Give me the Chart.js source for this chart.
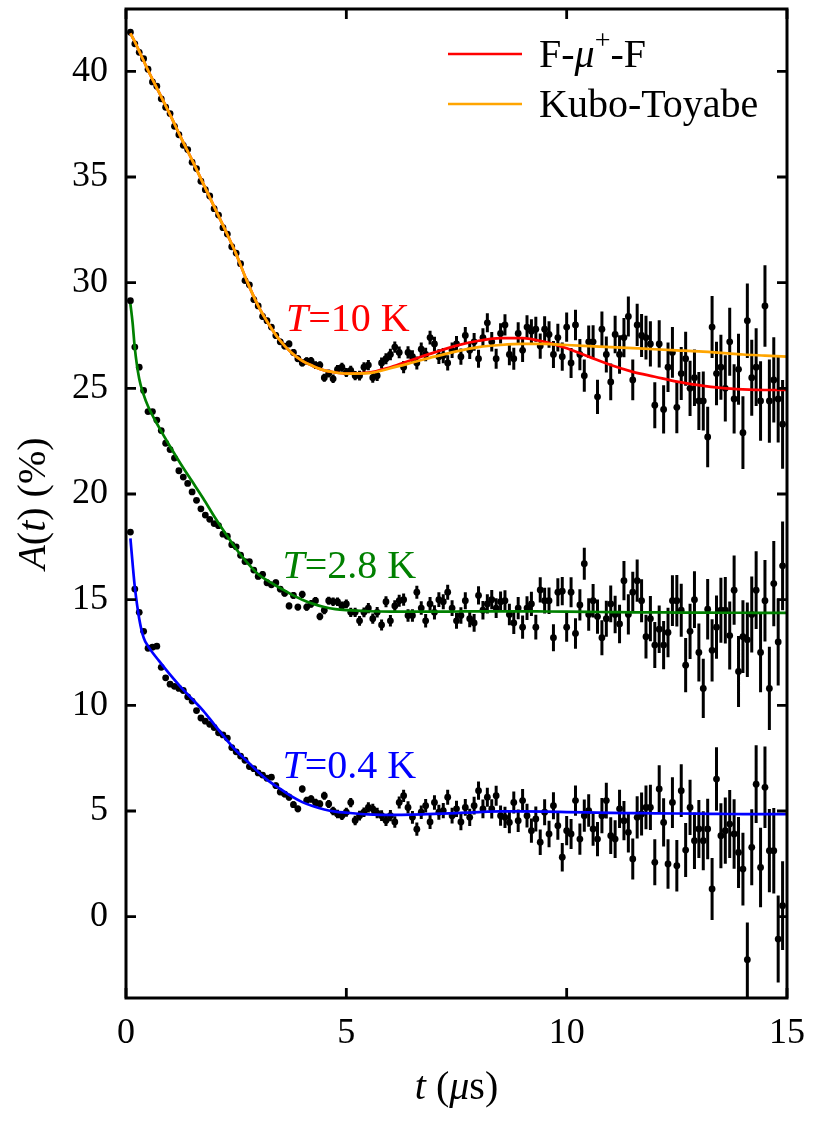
<!DOCTYPE html>
<html>
<head>
<meta charset="utf-8">
<script src="https://cdn.jsdelivr.net/npm/chart.js@4.4.1/dist/chart.umd.min.js"></script>
<style>
html,body{margin:0;padding:0;background:#fff;}
canvas{display:block;}
</style>
</head>
<body>
<canvas id="c" width="815" height="1128" style="width:815px;height:1128px"></canvas>
<script>
// ---- data ----
const times = [
0.1,0.2,0.3,0.4,0.5,0.6,0.7,0.8,0.9,1.0,
1.1,1.2,1.3,1.4,1.5,1.6,1.7,1.8,1.9,2.0,
2.1,2.2,2.3,2.4,2.5,2.6,2.7,2.8,2.9,3.0,
3.1,3.2,3.3,3.4,3.5,3.6,3.7,3.8,3.9,4.0,
4.1,4.2,4.3,4.4,4.5,4.6,4.7,4.8,4.9,5.0,
5.1,5.2,5.3,5.4,5.5,5.6,5.7,5.8,5.9,6.0,
6.1,6.2,6.3,6.4,6.5,6.6,6.7,6.8,6.9,7.0,
7.1,7.2,7.3,7.4,7.5,7.6,7.7,7.8,7.9,8.0,
8.1,8.2,8.3,8.4,8.5,8.6,8.7,8.8,8.9,9.0,
9.1,9.2,9.3,9.4,9.5,9.6,9.7,9.8,9.9,10.0,
10.1,10.2,10.3,10.4,10.5,10.6,10.7,10.8,10.9,11.0,
11.1,11.2,11.3,11.4,11.5,11.6,11.7,11.8,11.9,12.0,
12.1,12.2,12.3,12.4,12.5,12.6,12.7,12.8,12.9,13.0,
13.1,13.2,13.3,13.4,13.5,13.6,13.7,13.8,13.9,14.0,
14.1,14.2,14.3,14.4,14.5,14.6,14.7,14.8,14.9];

const errors = [
0.07,0.07,0.07,0.07,0.08,0.08,0.08,0.08,0.08,0.08,
0.09,0.09,0.09,0.09,0.09,0.1,0.1,0.1,0.1,0.1,
0.11,0.11,0.11,0.11,0.12,0.12,0.12,0.12,0.13,0.13,
0.14,0.14,0.14,0.15,0.15,0.15,0.16,0.16,0.16,0.17,
0.17,0.18,0.18,0.18,0.19,0.19,0.2,0.2,0.21,0.21,
0.22,0.22,0.23,0.23,0.24,0.24,0.25,0.26,0.26,0.27,
0.27,0.28,0.29,0.29,0.3,0.31,0.32,0.32,0.33,0.34,
0.35,0.36,0.36,0.37,0.38,0.39,0.4,0.41,0.42,0.43,
0.44,0.45,0.46,0.47,0.48,0.5,0.51,0.52,0.53,0.55,
0.56,0.57,0.59,0.6,0.61,0.63,0.64,0.66,0.67,0.69,
0.71,0.72,0.74,0.76,0.77,0.79,0.81,0.83,0.85,0.87,
0.89,0.91,0.93,0.95,0.97,1.0,1.02,1.04,1.07,1.09,
1.12,1.14,1.17,1.2,1.22,1.25,1.28,1.31,1.34,1.37,
1.4,1.43,1.47,1.5,1.54,1.57,1.61,1.64,1.68,1.72,
1.76,1.8,1.84,1.88,1.93,1.97,2.02,2.06,2.1];

const data10K = [
41.85,41.3,40.9,40.6,40.1,39.5,39.3,38.7,38.3,38.0,
37.4,37.0,36.5,36.3,35.7,35.4,34.8,34.4,34.1,33.5,
33.2,32.6,32.3,31.7,31.4,30.9,30.1,29.9,29.2,28.9,
28.4,28.2,27.9,27.5,27.2,27.0,27.1,26.7,26.4,26.2,
26.3,26.3,26.1,26.1,25.5,25.7,25.45,25.9,26.0,25.75,
25.85,25.6,25.6,26.0,26.1,25.5,25.6,26.2,26.4,26.6,
26.95,26.7,26.0,26.7,26.5,26.2,26.85,26.6,27.4,27.1,
26.5,26.55,26.2,26.8,27.1,26.5,27.5,26.8,27.2,26.4,
27.4,28.1,27.2,26.4,27.6,28.0,26.6,26.4,27.6,26.8,
27.9,27.7,27.8,27.0,27.8,27.55,26.6,27.4,26.5,27.9,
26.2,28.0,26.6,25.6,27.2,27.2,24.6,27.8,26.6,25.3,
27.55,26.6,27.4,28.4,25.4,28.0,27.5,27.4,27.1,24.2,
27.1,24.0,26.0,26.7,24.1,25.7,26.4,25.0,25.5,24.4,
24.4,22.7,27.9,25.7,26.0,25.0,27.2,24.5,25.9,22.9,
28.2,25.5,26.0,24.4,28.9,24.4,25.4,24.5,23.3];

const data28K = [
29.15,26.95,26.0,24.9,23.9,23.9,23.5,23.0,22.4,22.1,
21.7,21.1,20.8,20.5,20.1,19.7,19.3,19.0,18.8,18.6,
18.5,18.1,18.0,17.6,17.5,17.1,16.8,16.8,16.4,16.1,
16.2,15.8,15.7,15.8,15.5,15.3,14.7,15.2,14.65,15.25,
14.65,14.8,14.95,14.2,14.5,14.95,14.9,14.9,14.7,14.8,
14.4,14.4,14.0,14.4,14.6,14.1,14.4,13.8,14.9,14.0,
14.7,14.95,15.0,14.25,14.25,15.35,14.6,14.0,14.8,14.4,
15.0,14.9,15.35,14.6,14.0,14.25,14.95,14.1,13.9,15.2,
14.5,14.8,15.0,14.6,14.9,14.95,14.3,13.9,14.6,13.7,
14.6,14.8,13.7,15.46,14.95,14.95,13.2,15.35,15.4,13.7,
15.35,13.4,14.75,16.7,14.3,14.95,14.2,13.2,14.1,14.8,
14.3,13.85,15.9,14.3,15.35,15.9,14.95,13.25,14.1,12.85,
13.6,12.85,13.45,14.95,14.95,14.5,11.9,13.5,15.0,12.5,
10.8,14.55,12.6,13.7,14.5,14.5,13.3,15.45,11.6,13.25,
13.1,14.3,15.45,12.5,14.95,10.8,15.76,13.0,16.6];

const data04K = [
18.2,15.5,14.4,13.5,12.7,12.75,12.8,11.8,11.3,11.0,
10.9,10.8,10.7,10.4,10.2,9.75,9.4,9.25,9.1,8.95,
8.7,8.6,8.45,8.0,7.8,7.6,7.4,7.1,7.0,6.8,
6.7,6.55,6.6,6.2,5.9,5.8,5.65,5.3,5.1,6.04,
5.5,5.57,5.4,5.33,5.72,5.33,5.0,4.86,4.78,4.94,
5.4,4.55,4.78,4.94,5.17,5.1,4.9,4.78,4.55,4.78,
4.48,5.4,5.72,5.17,4.7,4.14,4.94,5.25,4.48,5.4,
4.94,5.02,5.65,4.78,5.1,4.48,5.17,4.7,5.25,5.96,
5.1,5.65,5.1,5.72,4.78,4.7,4.46,5.4,4.54,5.49,
4.78,4.07,4.62,3.52,4.94,3.91,5.25,4.3,2.81,4.07,
3.91,5.49,3.67,4.78,5.02,4.15,3.67,4.78,5.49,3.83,
3.67,5.1,4.54,3.99,2.73,4.7,4.86,5.17,5.17,2.57,
6.04,4.46,2.49,5.4,2.41,5.96,3.15,5.17,3.59,4.15,
3.59,4.15,1.31,6.51,3.83,4.07,4.38,3.91,3.04,2.25,
-2.04,3.28,6.27,2.33,6.12,3.12,3.12,-1.06,0.52];

const fitTimes = [
0.1,0.15,0.2,0.3,0.4,0.5,0.75,1,1.25,1.5,
1.75,2,2.25,2.5,2.75,3,3.25,3.5,3.75,4,
4.25,4.5,4.75,5,5.5,6,6.5,7,7.5,8,
8.5,9,9.5,10,10.5,11,11.5,12,12.5,13,
13.5,14,14.5,15];

const fitFmuF = [
41.8,41.6,41.4,40.95,40.5,40.05,39.0,37.95,36.85,35.8,
34.7,33.6,32.5,31.35,30.05,28.9,28.0,27.25,26.7,26.3,
26.05,25.85,25.75,25.7,25.74,26.0,26.35,26.7,27.02,27.25,
27.38,27.38,27.2,26.9,26.5,26.1,25.78,25.55,25.32,25.15,
25.02,24.95,24.92,24.92];

const fitKuboToyabe = [
41.8,41.6,41.4,40.95,40.5,40.05,39.0,37.95,36.85,35.8,
34.7,33.6,32.5,31.35,30.05,28.9,28.0,27.25,26.7,26.3,
26.05,25.85,25.75,25.7,25.72,25.95,26.22,26.5,26.75,26.95,
27.05,27.1,27.1,27.05,27.0,26.95,26.9,26.85,26.8,26.75,
26.68,26.6,26.55,26.5];

const fit28K = [
29.0,28.1,26.9,25.45,24.7,24.15,23.15,22.25,21.4,20.6,
19.8,18.95,18.15,17.4,16.75,16.2,15.85,15.55,15.25,15.0,
14.8,14.65,14.55,14.5,14.45,14.43,14.43,14.43,14.44,14.45,
14.45,14.45,14.44,14.43,14.42,14.41,14.4,14.4,14.39,14.39,
14.38,14.38,14.37,14.37];

const fit04K = [
17.9,16.7,15.6,14.1,13.2,12.8,12.1,11.45,10.85,10.3,
9.75,9.1,8.45,7.85,7.35,6.85,6.4,6.05,5.7,5.42,
5.22,5.07,4.97,4.92,4.84,4.82,4.83,4.86,4.9,4.95,
4.98,4.98,4.97,4.95,4.93,4.91,4.9,4.89,4.88,4.87,
4.86,4.85,4.85,4.85];

const xTicks = [0,5,10,15];
const yTicks = [0,5,10,15,20,25,30,35,40];
const seriesLabels = ['T=10 K','T=2.8 K','T=0.4 K'];
const legendLabels = ['F-\u03bc+-F','Kubo-Toyabe'];

// ---- presentation ----
const SERIF = "'Liberation Serif','Times New Roman',Times,serif";
const COLORS = {red:'#ff0000', orange:'#ffa500', green:'#008000', blue:'#0000ff'};

function pts(xs, ys){ return xs.map((t,i)=>({x:t, y:ys[i]})); }

function dataSet(label, ys){
  return {label, data: pts(times, ys), errors: errors, showLine:false,
    pointRadius:3.4, pointHoverRadius:3.4, pointBackgroundColor:'#000', pointBorderWidth:0,
    borderColor:'#000', order:10};
}
function fitSet(label, ys, color, order){
  return {label, data: pts(fitTimes, ys), showLine:true, borderColor:color, borderWidth:2.7,
    pointRadius:0, pointHoverRadius:0, cubicInterpolationMode:'monotone', fill:false, order};
}

function fontOf(seg, size){
  const s = seg.scale ? size*seg.scale : size;
  return (seg.italic ? 'italic ' : '') + s + 'px ' + SERIF;
}
function richWidth(ctx, segs, size){
  let w = 0;
  for (const s of segs){ ctx.font = fontOf(s,size); w += ctx.measureText(s.t).width; }
  return w;
}
function drawRich(ctx, segs, x, y, size, align){
  let cx = align === 'center' ? x - richWidth(ctx, segs, size)/2 : x;
  ctx.textBaseline = 'alphabetic';
  ctx.textAlign = 'left';
  for (const s of segs){
    ctx.font = fontOf(s,size);
    ctx.fillText(s.t, cx, y + (s.dy||0));
    cx += ctx.measureText(s.t).width;
  }
}

const annotations = [
  {segs:[{t:'T',italic:true},{t:'=10 K'}], x:3.63, y:27.73, color:COLORS.red},
  {segs:[{t:'T',italic:true},{t:'=2.8 K'}], x:3.55, y:16.04, color:COLORS.green},
  {segs:[{t:'T',italic:true},{t:'=0.4 K'}], x:3.55, y:6.58, color:COLORS.blue}
];

const decor = {
  id:'decor',
  beforeDatasetsDraw(chart){
    const ctx = chart.ctx, a = chart.chartArea, xs = chart.scales.x, ys = chart.scales.y;
    ctx.save();
    ctx.beginPath(); ctx.rect(a.left, a.top, a.right-a.left, a.bottom-a.top); ctx.clip();
    ctx.strokeStyle = '#000'; ctx.lineWidth = 3; ctx.lineCap = 'butt';
    chart.data.datasets.forEach(ds => {
      if (!ds.errors) return;
      ctx.beginPath();
      ds.data.forEach((p,i) => {
        const e = ds.errors[i];
        const px = xs.getPixelForValue(p.x);
        ctx.moveTo(px, ys.getPixelForValue(p.y - e));
        ctx.lineTo(px, ys.getPixelForValue(p.y + e));
      });
      ctx.stroke();
    });
    ctx.restore();
  },
  afterDraw(chart){
    const ctx = chart.ctx, a = chart.chartArea, xs = chart.scales.x, ys = chart.scales.y;
    ctx.save();
    // frame
    ctx.strokeStyle = '#000'; ctx.lineWidth = 3;
    ctx.strokeRect(a.left, a.top, a.right-a.left, a.bottom-a.top);
    // inward ticks on all four sides
    const TL = 10;
    ctx.lineWidth = 2.8;
    ctx.beginPath();
    xTicks.forEach(v => {
      const px = xs.getPixelForValue(v);
      ctx.moveTo(px, a.bottom); ctx.lineTo(px, a.bottom - TL);
      ctx.moveTo(px, a.top); ctx.lineTo(px, a.top + TL);
    });
    yTicks.forEach(v => {
      const py = ys.getPixelForValue(v);
      ctx.moveTo(a.left, py); ctx.lineTo(a.left + TL, py);
      ctx.moveTo(a.right, py); ctx.lineTo(a.right - TL, py);
    });
    ctx.stroke();

    // legend
    const legend = [
      {color:COLORS.red, y:54, segs:[{t:'F-'},{t:'\u03bc',italic:true},{t:'+',scale:0.7,dy:-18},{t:'-F'}]},
      {color:COLORS.orange, y:104, segs:[{t:legendLabels[1]}]}
    ];
    legend.forEach(l => {
      ctx.strokeStyle = l.color; ctx.lineWidth = 2.7;
      ctx.beginPath(); ctx.moveTo(448, l.y); ctx.lineTo(522, l.y); ctx.stroke();
      ctx.fillStyle = '#000';
      drawRich(ctx, l.segs, 539, l.y + 13, 40, 'left');
    });

    // series annotations
    annotations.forEach(an => {
      ctx.fillStyle = an.color;
      drawRich(ctx, an.segs, xs.getPixelForValue(an.x), ys.getPixelForValue(an.y), 40, 'left');
    });

    // axis titles
    ctx.fillStyle = '#000';
    drawRich(ctx, [{t:'t',italic:true},{t:' ('},{t:'\u03bc',italic:true},{t:'s)'}], (a.left+a.right)/2, 1099, 40, 'center');
    ctx.save();
    ctx.translate(45, (a.top + a.bottom)/2);
    ctx.rotate(-Math.PI/2);
    drawRich(ctx, [{t:'A',italic:true},{t:'('},{t:'t',italic:true},{t:') (%)'}], 0, 0, 40, 'center');
    ctx.restore();
    ctx.restore();
  }
};

new Chart(document.getElementById('c').getContext('2d'), {
  type:'scatter',
  data:{datasets:[
    dataSet(seriesLabels[0], data10K),
    dataSet(seriesLabels[1], data28K),
    dataSet(seriesLabels[2], data04K),
    fitSet(legendLabels[0], fitFmuF, COLORS.red, 2),
    fitSet(legendLabels[1], fitKuboToyabe, COLORS.orange, 1),
    fitSet(seriesLabels[1] + ' fit', fit28K, COLORS.green, 2),
    fitSet(seriesLabels[2] + ' fit', fit04K, COLORS.blue, 2)
  ]},
  options:{
    responsive:false, animation:false, devicePixelRatio:1, events:[],
    layout:{padding:{left:0, right:28, top:9, bottom:0}},
    plugins:{legend:{display:false}, tooltip:{enabled:false}},
    scales:{
      x:{type:'linear', min:0, max:15,
        afterBuildTicks: s => { s.ticks = xTicks.map(v => ({value:v})); },
        afterFit: s => { s.height = 130; s.paddingLeft = 0; s.paddingRight = 0; },
        grid:{display:false, drawTicks:false}, border:{display:false},
        ticks:{padding:14, color:'#000', font:{family:SERIF, size:36}, maxRotation:0, autoSkip:false}
      },
      y:{type:'linear', min:-3.85, max:42.95,
        afterBuildTicks: s => { s.ticks = yTicks.map(v => ({value:v})); },
        afterFit: s => { s.width = 126; s.paddingTop = 0; s.paddingBottom = 0; },
        grid:{display:false, drawTicks:false}, border:{display:false},
        ticks:{padding:18, color:'#000', font:{family:SERIF, size:36}, autoSkip:false}
      }
    }
  },
  plugins:[decor]
});
</script>
</body>
</html>
